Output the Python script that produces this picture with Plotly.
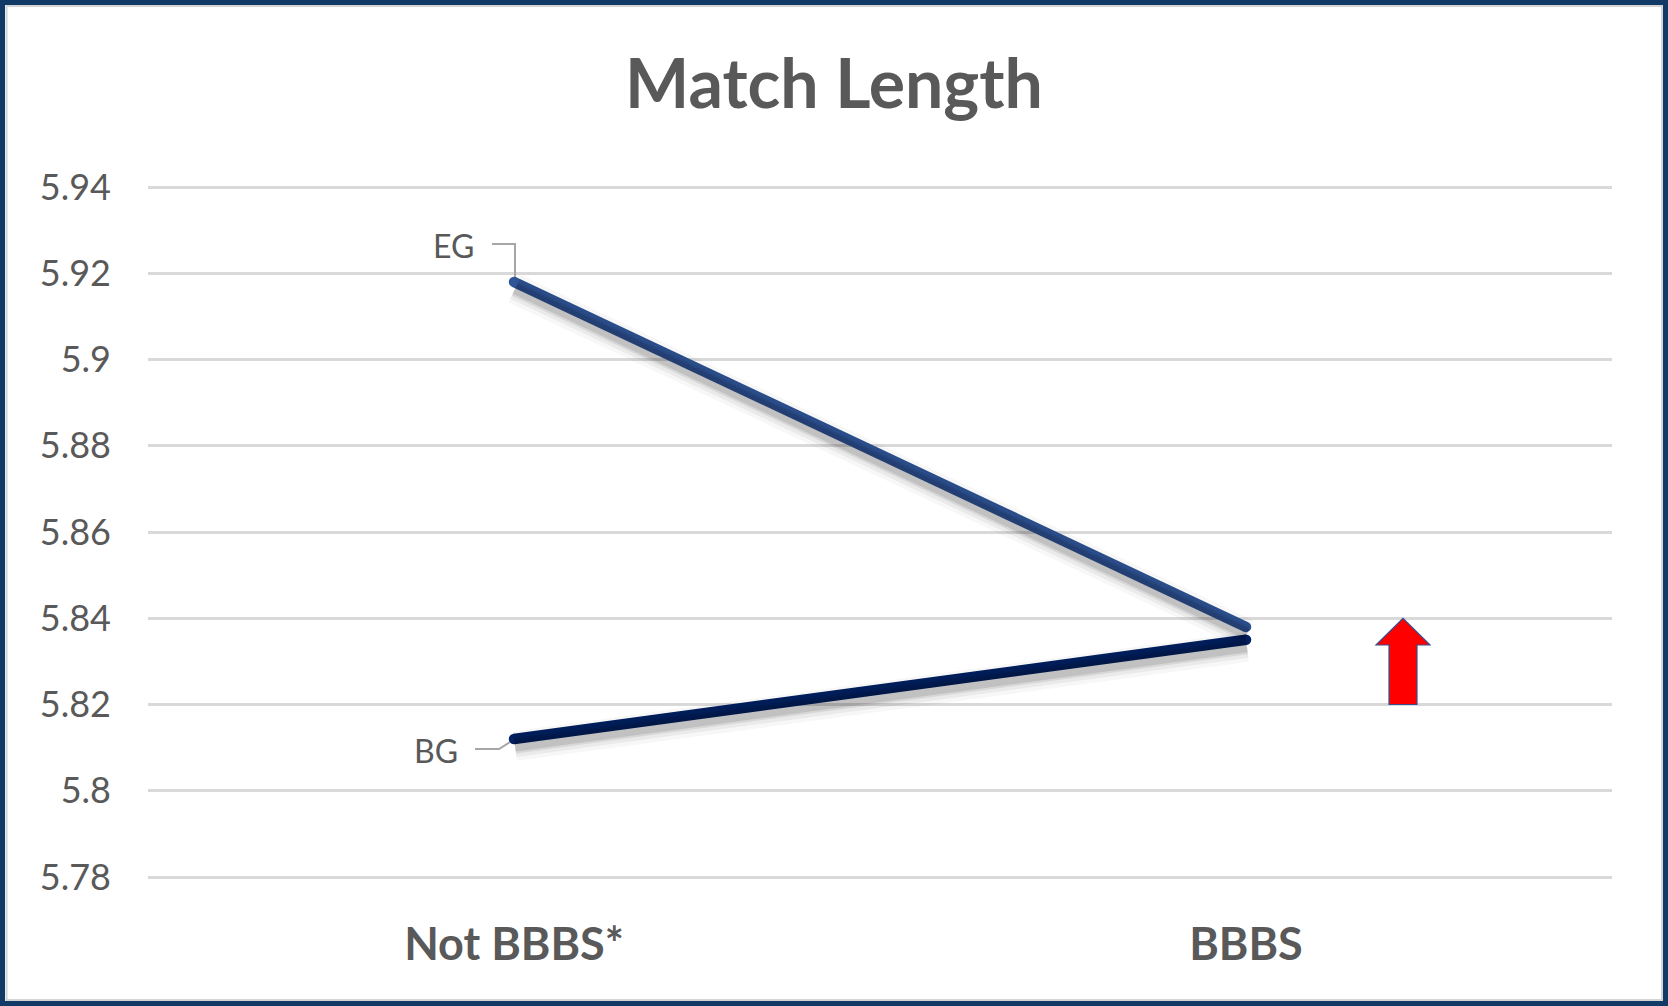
import plotly.graph_objects as go

# ---- data ----
categories = ["Not BBBS*", "BBBS"]
series_names = ["EG", "BG"]
eg_values = [5.918, 5.838]
bg_values = [5.812, 5.835]
y_tick_values = [5.78, 5.80, 5.82, 5.84, 5.86, 5.88, 5.90, 5.92, 5.94]
y_tick_labels = ["5.78", "5.8", "5.82", "5.84", "5.86", "5.88", "5.9", "5.92", "5.94"]
arrow_low, arrow_high = 5.82, 5.84

# ---- layout geometry (pixels) ----
W_FIG, H_FIG = 1668, 1006
L, R, T, B = 148, 1612, 185, 879
PW, PH = R - L, B - T
Y_MIN, Y_MAX = 5.78, 5.94
ppu = (877 - 187) / (Y_MAX - Y_MIN)       # pixels per y unit
pad = 2 / ppu
y_range = [Y_MIN - pad, Y_MAX + pad]


def pxx(x):
    return (x - L) / PW


def pxy(y):
    return (B - y) / PH


x_idx = list(range(len(categories)))
EG_COL = "#2F5597"
BG_COL = "#00205F"
TXT = "#595959"
FONT = "Lato"
LW = 10.5

fig = go.Figure()

# soft shadows on secondary axes shifted a few pixels down
dx = 1 / (PW / 2.0)
dy = 7 / ppu
for w, a in [(30, 0.03), (22, 0.05), (15, 0.08), (11, 0.10)]:
    for vals in (eg_values, bg_values):
        fig.add_trace(go.Scatter(x=x_idx, y=vals, mode="lines", xaxis="x2", yaxis="y2",
                                 line=dict(color=f"rgba(0,0,0,{a})", width=w),
                                 hoverinfo="skip", showlegend=False))

fig.add_trace(go.Scatter(x=x_idx, y=eg_values, name=series_names[0], mode="lines+markers",
                         line=dict(color=EG_COL, width=LW),
                         marker=dict(color=EG_COL, size=LW, line=dict(width=0)),
                         showlegend=False))
fig.add_trace(go.Scatter(x=x_idx, y=bg_values, name=series_names[1], mode="lines+markers",
                         line=dict(color=BG_COL, width=LW),
                         marker=dict(color=BG_COL, size=LW, line=dict(width=0)),
                         showlegend=False))

shapes = []
# outer frame
shapes.append(dict(type="rect", xref="paper", yref="paper",
                   x0=pxx(2.5), x1=pxx(W_FIG - 2.5), y0=pxy(H_FIG - 2.5), y1=pxy(2.5),
                   line=dict(color="#123A67", width=5), layer="above"))
shapes.append(dict(type="rect", xref="paper", yref="paper",
                   x0=pxx(6.5), x1=pxx(W_FIG - 6), y0=pxy(H_FIG - 6), y1=pxy(6),
                   line=dict(color="#D4D4D4", width=2), layer="above"))

# leader lines for data labels
shapes.append(dict(type="path", xref="x", yref="y", xsizemode="pixel", ysizemode="pixel",
                   xanchor=x_idx[0], yanchor=eg_values[0],
                   path="M -22,38 L 1,38 L 1,4", line=dict(color="#A6A6A6", width=2),
                   layer="between"))
shapes.append(dict(type="path", xref="x", yref="y", xsizemode="pixel", ysizemode="pixel",
                   xanchor=x_idx[0], yanchor=bg_values[0],
                   path="M -39,-10 L -15,-10 L -4,-3", line=dict(color="#A6A6A6", width=2),
                   layer="between"))

# red up arrow
head = arrow_high - (arrow_high - arrow_low) * 0.31
arrow_x = (1403 - L) / (PW / 2.0) - 0.5
shapes.append(dict(type="path", xref="x", yref="y", xsizemode="pixel",
                   xanchor=arrow_x,
                   path=(f"M -14,{arrow_low} L 14,{arrow_low} L 14,{head} L 27,{head} "
                         f"L 0,{arrow_high} L -27,{head} L -14,{head} Z"),
                   fillcolor="#FF0000", line=dict(color="#3A4F8F", width=1.2),
                   layer="above"))

annotations = [
    dict(x=x_idx[0], y=eg_values[0], xref="x", yref="y", text=series_names[0],
         showarrow=False, xshift=-61, yshift=36,
         font=dict(family=FONT, size=32, color=TXT)),
    dict(x=x_idx[0], y=bg_values[0], xref="x", yref="y", text=series_names[1],
         showarrow=False, xshift=-78, yshift=-11,
         font=dict(family=FONT, size=32, color=TXT)),
]

fig.update_layout(
    width=W_FIG, height=H_FIG,
    margin=dict(l=L, r=W_FIG - R, t=T, b=H_FIG - B, pad=0),
    paper_bgcolor="white", plot_bgcolor="white",
    title=dict(text="<b>Match Length</b>", x=0.5, xref="container", xanchor="center",
               y=1 - 84 / H_FIG, yref="container", yanchor="middle",
               font=dict(family=FONT, size=68, color=TXT)),
    xaxis=dict(range=[-0.5, 1.5], tickvals=x_idx, ticktext=[f"<b>{c}</b>" for c in categories],
               showgrid=False, zeroline=False, showline=False, ticks="",
               ticklabelstandoff=35,
               tickfont=dict(family=FONT, size=45, color=TXT)),
    yaxis=dict(range=y_range, tickvals=y_tick_values, ticktext=y_tick_labels,
               showgrid=True, gridcolor="#D9D9D9", gridwidth=3, zeroline=False,
               showline=False, ticks="", ticklabelstandoff=36,
               tickfont=dict(family=FONT, size=36, color=TXT)),
    xaxis2=dict(range=[-0.5 - dx, 1.5 - dx], overlaying="x", visible=False),
    yaxis2=dict(range=[y_range[0] + dy, y_range[1] + dy], overlaying="y", visible=False),
    shapes=shapes,
    annotations=annotations,
    showlegend=False,
)

fig.write_html("out.html", config={"displayModeBar": False},
               post_script="document.body.style.margin='0';document.body.style.overflow='hidden';")
